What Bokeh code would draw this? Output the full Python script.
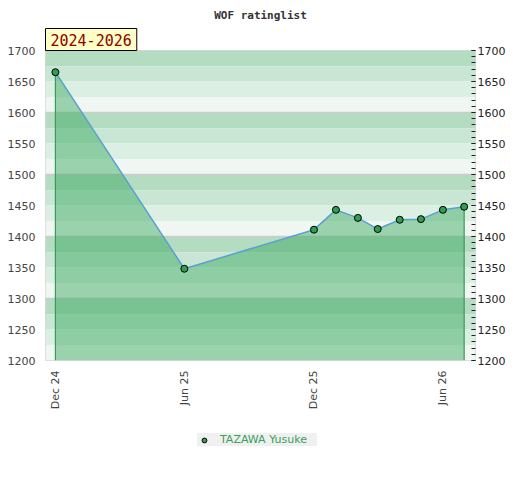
from datetime import datetime
import pandas as pd
from bokeh.plotting import figure
from bokeh.layouts import column
from bokeh.models import (Range1d, LinearAxis, FixedTicker, SingleIntervalTicker, Title,
                          DatetimeTickFormatter, Legend, LegendItem, ColumnDataSource)
from bokeh.embed import file_html
from bokeh.resources import INLINE

# ---- data ----
dates = ["2024-12-01", "2025-06-01", "2025-12-01", "2026-01-01", "2026-02-01",
         "2026-03-01", "2026-04-01", "2026-05-01", "2026-06-01", "2026-07-01"]
ratings = [1665, 1348, 1411, 1443, 1430, 1412, 1427, 1428, 1443, 1448]
tick_dates = ["2024-12-01", "2025-06-01", "2025-12-01", "2026-06-01"]
player = "TAZAWA Yusuke"
title_text = "WOF ratinglist"
period_text = "2024-2026"
y_min, y_max = 1200, 1700

x = pd.to_datetime(dates)
src = ColumnDataSource(dict(x=x, y=ratings, base=[y_min] * len(ratings)))

p = figure(frame_width=430, frame_height=310, output_backend="svg", toolbar_location=None,
           x_axis_type="datetime", y_axis_location=None,
           x_range=Range1d(x[0] - pd.Timedelta(days=14), x[-1] + pd.Timedelta(days=16)),
           y_range=Range1d(y_min, y_max),
           min_border_left=0, min_border_right=0, min_border_top=0, min_border_bottom=0)
p.margin = (1, 0, 0, 4)
p.background_fill_color = "white"
p.border_fill_color = "white"
p.outline_line_color = "#d8d8d8"
p.xgrid.visible = False
p.ygrid.visible = False

# background bands (4 per 100 rating points, darkest at the top of each block)
band_colors = ["#b3dcc1", "#c8e6d3", "#dcefe3", "#f0f7f2"]
y0s, y1s, cols = [], [], []
for blk in range(y_min, y_max, 100):
    for i in range(4):
        top = blk + 100 - 25 * i
        y0s.append(top - 25)
        y1s.append(top)
        cols.append(band_colors[i])
p.hstrip(y0=y0s, y1=y1s, fill_color=cols, line_color=None)
p.hspan(y=list(range(y_min + 100, y_max, 100)), line_color="#cccccc", line_width=1.5)

# area, line, markers
marker_style = dict(size=7, fill_color="#2e9e50", line_color="black", line_width=1)
p.varea(x="x", y1="base", y2="y", source=src, fill_color="#2aa251", fill_alpha=0.43)
p.segment(x0=[x[0], x[-1]], y0=[y_min, y_min], x1=[x[0], x[-1]], y1=[ratings[0], ratings[-1]],
          line_color="#3a9a5a", line_width=1.2)
p.line("x", "y", source=src, line_color="#5b9fd6", line_width=1.5)
p.scatter("x", "y", source=src, **marker_style)

# axes
p.xaxis.ticker = FixedTicker(ticks=[pd.Timestamp(d).value / 1e6 for d in tick_dates])
fmt = "%b %y"
p.xaxis.formatter = DatetimeTickFormatter(days=fmt, months=fmt, years=fmt, hours=fmt)
p.xaxis.major_label_orientation = 3.14159 / 2
p.xaxis.axis_line_color = None
p.xaxis.major_tick_line_color = None
p.xaxis.minor_tick_line_color = None
p.xaxis.major_tick_out = 0
p.xaxis.minor_tick_out = 0
p.xaxis.major_label_text_font = "DejaVu Sans"
p.xaxis.major_label_text_font_size = "11px"
p.xaxis.major_label_text_color = "#444444"
p.xaxis.major_label_standoff = 10

left = LinearAxis(ticker=SingleIntervalTicker(interval=50, num_minor_ticks=0))
left.axis_line_color = None
left.major_tick_line_color = None
left.minor_tick_line_color = None
left.major_tick_out = 0
left.minor_tick_out = 0
left.major_label_text_font = "DejaVu Sans"
left.major_label_text_font_size = "11px"
left.major_label_text_color = "#444444"
left.major_label_standoff = 10
p.add_layout(left, "left")

right = LinearAxis(ticker=SingleIntervalTicker(interval=50, num_minor_ticks=5))
right.axis_line_color = None
right.major_tick_in = 4
right.major_tick_out = 0
right.minor_tick_in = 4
right.minor_tick_out = 0
right.major_tick_line_color = "#222222"
right.minor_tick_line_color = "#222222"
right.major_label_text_font = "DejaVu Sans"
right.major_label_text_font_size = "11px"
right.major_label_text_color = "#222222"
right.major_label_standoff = 2
p.add_layout(right, "right")

# period label and title (above the frame)
period = Title(text=period_text, align="left", text_font="DejaVu Sans Mono",
               text_font_size="15px", text_font_style="normal", text_color="#8b0000",
               background_fill_color="#ffffc6", border_line_color="black", border_line_width=1,
               padding=5, standoff=0, offset=0)
p.add_layout(period, "above")
main_title = Title(text=title_text, align="center", text_font="DejaVu Sans Mono",
                   text_font_size="11px", text_font_style="bold", text_color="#333333",
                   standoff=10)
p.add_layout(main_title, "above")

# legend strip below the chart (its marker uses the same style; points fall outside its range)
lg = figure(width=504, height=50, output_backend="svg", toolbar_location=None,
            x_axis_location=None, y_axis_location=None,
            x_range=Range1d(0, 1), y_range=Range1d(0, 1),
            min_border=0, outline_line_color=None)
lg.grid.visible = False
leg_r = lg.scatter("x", "y", source=src, **marker_style)
legend = Legend(items=[LegendItem(label=player, renderers=[leg_r])], location=(156, 16),
                orientation="horizontal",
                background_fill_color="#f0f0f0", background_fill_alpha=1, border_line_color=None,
                label_text_color="#3aa05a", label_text_font="DejaVu Sans", label_text_font_size="11px",
                glyph_width=14, glyph_height=12, label_height=12, label_width=97,
                padding=6, label_standoff=9, margin=0)
lg.add_layout(legend, "center")

open("out.html", "w").write(file_html(column(p, lg, spacing=0), INLINE))
